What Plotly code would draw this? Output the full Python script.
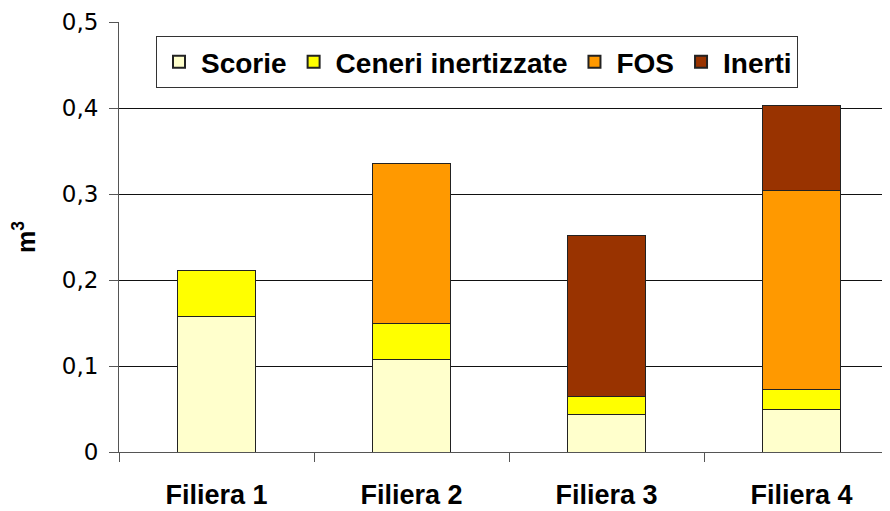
import plotly.graph_objects as go

categories = ["Filiera 1", "Filiera 2", "Filiera 3", "Filiera 4"]
series_names = ["Scorie", "Ceneri inertizzate", "FOS", "Inerti"]
scorie = [0.158, 0.107, 0.044, 0.049]
ceneri = [0.053, 0.042, 0.020, 0.024]
fos = [0.0, 0.186, 0.0, 0.231]
inerti = [0.0, 0.0, 0.188, 0.099]
colors = ["#FFFFCC", "#FFFF00", "#FF9900", "#993300"]
y_ticks = [0, 0.1, 0.2, 0.3, 0.4, 0.5]

# page body has an 8px margin; figure is offset by it
W, H = 882, 503
ml, mr, mt, mb = 111, 0, 14, 59
plot_w = W - ml - mr
plot_h = H - mt - mb
cat_w = 195.0

fig = go.Figure()
for name, vals, col in zip(series_names, [scorie, ceneri, fos, inerti], colors):
    fig.add_trace(go.Bar(
        x=categories, y=vals, name=name,
        marker=dict(color=col, line=dict(color="#222222", width=1)),
        width=0.4,
    ))

fig.update_layout(
    width=W, height=H,
    margin=dict(l=ml, r=mr, t=mt, b=mb, pad=0, autoexpand=False),
    barmode="stack",
    separators=", ",
    plot_bgcolor="white", paper_bgcolor="white",
    font=dict(family="Liberation Sans, Arial, sans-serif", color="black"),
    showlegend=True,
    legend=dict(
        orientation="h",
        x=(477 - 8 - ml) / plot_w, xanchor="center",
        y=(plot_h + mt - 28) / plot_h, yanchor="top",
        bordercolor="#333333", borderwidth=1, bgcolor="white",
        font=dict(size=28, family="Liberation Sans, Arial, sans-serif", weight="bold"),
        traceorder="normal",
        itemsizing="constant",
        itemwidth=34,
    ),
    xaxis=dict(
        type="category",
        range=[-0.5, -0.5 + plot_w / cat_w],
        automargin=False,
        showline=True, linecolor="#555555", linewidth=1,
        ticks="outside", tickson="boundaries", ticklen=9, tickcolor="#555555",
        tickfont=dict(size=27, weight="bold"),
        ticklabelstandoff=19,
        showgrid=False,
    ),
    yaxis=dict(
        range=[0, 0.5],
        automargin=False,
        tickvals=y_ticks,
        tickformat=".1f",
        showline=True, linecolor="#555555", linewidth=1,
        ticks="outside", ticklen=9, tickcolor="#555555",
        tickfont=dict(size=23, family="DejaVu Sans, sans-serif"),
        ticklabelstandoff=6,
        showgrid=True, gridcolor="#111111", gridwidth=1,
        zeroline=False,
        title=dict(text="<b>m<sup>3</sup></b>", font=dict(size=25), standoff=30),
    ),
)
fig.update_yaxes(labelalias={"0,0": "0"})
fig.write_html("out.html")
